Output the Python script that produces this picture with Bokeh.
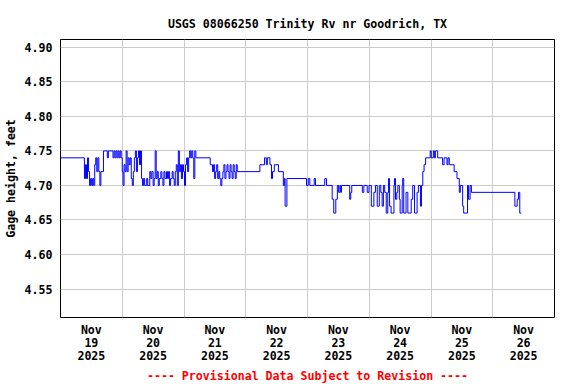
from bokeh.plotting import figure
from bokeh.models import Range1d, FixedTicker, NumeralTickFormatter, Title
from bokeh.embed import file_html
from bokeh.resources import INLINE

# Hours since 2025-11-19 00:00 (local) and gage height (feet)
hours = [0.0, 9.3, 9.7, 10.1, 10.5, 10.9, 11.3, 11.7, 12.1, 12.5, 12.9, 13.3, 13.7,
         14.1, 14.5, 14.9, 15.3, 15.7, 16.7, 18.2, 18.6, 20.4, 20.8, 21.2, 21.6,
         22.0, 22.4, 22.8, 23.2, 23.6, 24.0, 24.3, 24.7, 25.1, 25.5, 25.9, 26.3,
         26.7, 27.1, 27.5, 27.9, 28.3, 28.7, 29.1, 29.5, 29.9, 30.3, 30.7, 31.1,
         31.5, 31.9, 32.3, 32.7, 33.5, 33.9, 34.7, 35.1, 35.5, 36.0, 36.4, 36.8,
         37.2, 37.6, 38.0, 38.4, 39.0, 39.4, 39.8, 40.2, 40.6, 41.2, 41.6, 42.0,
         42.4, 42.8, 43.4, 43.8, 44.2, 44.6, 45.0, 45.4, 45.8, 46.2, 46.6, 47.0,
         47.4, 47.8, 48.2, 48.6, 49.0, 49.4, 49.8, 50.2, 50.6, 51.0, 51.4, 51.8,
         52.2, 52.6, 58.2, 59.1, 59.5, 59.9, 60.3, 60.7, 61.1, 61.5, 61.9, 62.3,
         62.7, 63.1, 63.5, 63.9, 64.3, 64.7, 65.1, 65.5, 65.9, 66.3, 66.7, 67.1,
         67.5, 67.9, 68.3, 68.7, 77.5, 79.3, 80.0, 80.4, 81.4, 82.0, 82.4, 83.1,
         84.7, 86.6, 87.0, 87.3, 88.0, 95.6, 96.3, 96.9, 98.6, 99.1, 102.7, 103.4,
         105.6, 106.2, 107.0, 107.6, 108.1, 108.6, 108.9, 109.2, 112.4, 112.8,
         113.2, 117.3, 117.9, 119.2, 119.9, 120.8, 121.8, 122.4, 123.1, 123.9,
         124.5, 125.0, 125.5, 126.0, 126.6, 127.2, 127.5, 127.9, 128.5, 129.6,
         129.8, 130.2, 130.7, 131.1, 131.7, 132.0, 132.8, 133.0, 133.4, 134.3,
         135.0, 136.3, 136.9, 137.6, 138.6, 139.1, 139.9, 140.3, 140.8, 141.3,
         141.9, 143.7, 144.1, 144.9, 145.3, 145.7, 146.6, 148.5, 149.1, 150.2,
         150.6, 151.1, 153.0, 154.1, 155.0, 155.4, 156.3, 156.7, 158.2, 158.6,
         159.2, 159.7, 176.6, 177.5, 178.0, 178.5, 179.1]
stage = [4.74, 4.71, 4.73, 4.71, 4.74, 4.72, 4.70, 4.71, 4.70, 4.71, 4.70, 4.73, 4.74,
         4.72, 4.74, 4.72, 4.70, 4.72, 4.75, 4.74, 4.75, 4.74, 4.75, 4.74, 4.75,
         4.74, 4.75, 4.74, 4.75, 4.74, 4.72, 4.70, 4.73, 4.72, 4.75, 4.72, 4.74,
         4.73, 4.74, 4.71, 4.70, 4.72, 4.74, 4.75, 4.72, 4.74, 4.75, 4.73, 4.75,
         4.71, 4.70, 4.71, 4.70, 4.71, 4.70, 4.72, 4.71, 4.72, 4.70, 4.71, 4.75,
         4.71, 4.72, 4.70, 4.71, 4.72, 4.71, 4.70, 4.72, 4.71, 4.72, 4.71, 4.72,
         4.70, 4.71, 4.72, 4.71, 4.70, 4.72, 4.73, 4.70, 4.75, 4.72, 4.73, 4.71,
         4.73, 4.72, 4.70, 4.73, 4.74, 4.72, 4.74, 4.75, 4.74, 4.75, 4.74, 4.71,
         4.75, 4.74, 4.73, 4.72, 4.73, 4.71, 4.72, 4.73, 4.71, 4.72, 4.71, 4.70,
         4.71, 4.72, 4.73, 4.71, 4.72, 4.73, 4.72, 4.71, 4.73, 4.72, 4.71, 4.73,
         4.72, 4.71, 4.73, 4.72, 4.73, 4.74, 4.73, 4.74, 4.73, 4.71, 4.72, 4.73,
         4.72, 4.70, 4.71, 4.67, 4.71, 4.70, 4.71, 4.70, 4.71, 4.70, 4.71, 4.70,
         4.68, 4.66, 4.68, 4.70, 4.69, 4.70, 4.69, 4.70, 4.68, 4.69,
         4.70, 4.69, 4.70, 4.69, 4.70, 4.67, 4.69, 4.70, 4.67, 4.70,
         4.69, 4.67, 4.70, 4.69, 4.66, 4.69, 4.71, 4.67, 4.66, 4.70,
         4.71, 4.68, 4.69, 4.70, 4.68, 4.66, 4.70, 4.71, 4.66, 4.69,
         4.66, 4.68, 4.70, 4.66, 4.69, 4.70, 4.67, 4.70, 4.72, 4.73,
         4.74, 4.75, 4.74, 4.75, 4.74, 4.75, 4.74, 4.73, 4.74, 4.73,
         4.74, 4.73, 4.72, 4.71, 4.69, 4.70, 4.67, 4.66, 4.70, 4.68,
         4.70, 4.69, 4.67, 4.68, 4.69, 4.66, 4.66]

day_ticks = [12, 36, 60, 84, 108, 132, 156, 180]
day_labels = ["Nov\n19\n2025", "Nov\n20\n2025", "Nov\n21\n2025", "Nov\n22\n2025",
              "Nov\n23\n2025", "Nov\n24\n2025", "Nov\n25\n2025", "Nov\n26\n2025"]
midnights = [24, 48, 72, 96, 120, 144, 168]
y_ticks = [4.55, 4.60, 4.65, 4.70, 4.75, 4.80, 4.85, 4.90]

title_text = "USGS 08066250 Trinity Rv nr Goodrich, TX"
y_label_text = "Gage height, feet"
footer_text = "---- Provisional Data Subject to Revision ----"

FONT = "DejaVu Sans Mono"
FS = "11.6px"

X0, X1 = 0, 192
Y0, Y1 = 4.5088, 4.9113

p = figure(width=576, height=384, output_backend="svg", toolbar_location=None,
           x_range=Range1d(X0, X1), y_range=Range1d(Y0, Y1),
           min_border_left=58, min_border_right=22, min_border_top=39,
           min_border_bottom=67, background_fill_color="white",
           border_fill_color="white")

p.outline_line_color = "black"
p.outline_line_width = 1

p.xaxis.ticker = FixedTicker(ticks=day_ticks)
p.xaxis.major_label_overrides = {float(t): lab for t, lab in zip(day_ticks, day_labels)}
p.yaxis.ticker = FixedTicker(ticks=y_ticks)
p.yaxis.formatter = NumeralTickFormatter(format="0.00")

for ax in (p.xaxis[0], p.yaxis[0]):
    ax.axis_line_color = None
    ax.major_tick_line_color = None
    ax.minor_tick_line_color = None
    ax.major_tick_out = 0
    ax.major_tick_in = 0
    ax.major_label_text_font = FONT
    ax.major_label_text_font_style = "bold"
    ax.major_label_text_font_size = FS
    ax.major_label_text_color = "black"
p.xaxis.major_label_standoff = 5
p.xaxis.major_label_text_line_height = 0.95
p.yaxis.major_label_standoff = 8

p.yaxis.axis_label = y_label_text
p.yaxis.axis_label_text_font = FONT
p.yaxis.axis_label_text_font_style = "bold"
p.yaxis.axis_label_text_font_size = FS
p.yaxis.axis_label_text_color = "black"
p.yaxis.axis_label_standoff = 4

p.xgrid.ticker = FixedTicker(ticks=midnights)
p.ygrid.ticker = FixedTicker(ticks=y_ticks)
p.xgrid.grid_line_color = "#cccccc"
p.ygrid.grid_line_color = "#cccccc"

p.step(hours, stage, mode="after", line_color="#0000ff", line_width=1)

p.title.text = title_text
p.title.align = "center"
p.title.text_font = FONT
p.title.text_font_style = "bold"
p.title.text_font_size = FS
p.title.text_color = "black"
p.title.standoff = 17

p.add_layout(Title(text=footer_text, align="center", text_font=FONT,
                   text_font_style="bold", text_font_size=FS,
                   text_color="#ff0000", standoff=0), "below")

open("out.html", "w").write(file_html(p, INLINE))
